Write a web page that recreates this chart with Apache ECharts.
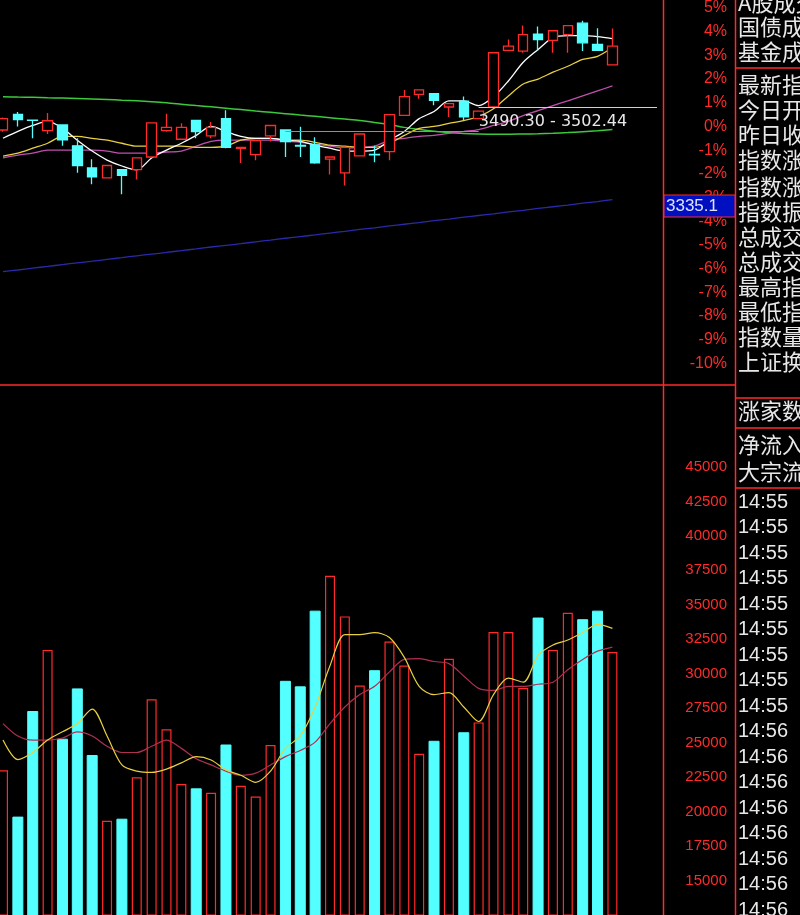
<!DOCTYPE html>
<html><head><meta charset="utf-8">
<script src="https://cdn.jsdelivr.net/npm/echarts@6/dist/echarts.min.js"></script>
<style>html,body{margin:0;padding:0;background:#000;}#c{width:800px;height:915px;}</style>
</head><body><div id="c"></div>
<script>
// categories (42 sessions + 3 empty slots on the right)
var categories = ['1','2','3','4','5','6','7','8','9','10','11','12','13','14','15','16','17','18','19','20','21','22','23','24','25','26','27','28','29','30','31','32','33','34','35','36','37','38','39','40','41','42','43','44','45'];
// candles in % : [open, close, low, high]
var candles = [
[-0.15,0.33,-0.22,0.38],[0.51,0.29,0.0,0.61],[0.27,0.26,-0.5,0.27],[-0.18,0.24,-0.32,0.57],[0.06,-0.57,-0.82,0.06],
[-0.82,-1.65,-1.96,-0.5],[-1.75,-2.13,-2.44,-1.38],[-2.17,-1.65,-2.2,-1.62],[-1.82,-2.07,-2.86,-1.8],[-1.82,-1.33,-2.24,-1.3],
[-1.29,0.15,-1.32,0.17],[-0.18,-0.04,-0.22,0.54],[-0.54,-0.04,-0.57,0.13],[0.26,-0.22,-0.5,0.28],[-0.4,-0.04,-0.5,0.19],
[0.33,-0.88,-0.92,0.68],[-0.93,-0.88,-1.54,-0.86],[-1.19,-0.6,-1.43,-0.58],[-0.4,0.04,-0.64,0.06],[-0.15,-0.64,-1.29,-0.13],
[-0.8,-0.83,-1.29,-0.01],[-0.78,-1.54,-1.57,-0.46],[-1.38,-1.29,-2.03,-1.27],[-1.96,-0.88,-2.49,-0.85],[-1.24,-0.32,-1.27,-0.3],
[-1.18,-1.2,-1.51,-0.82],[-1.06,0.5,-1.43,0.52],[0.47,1.26,0.45,1.54],[1.35,1.54,1.17,1.56],[1.38,1.1,0.89,1.4],
[0.82,0.96,0.4,0.98],[1.07,0.4,0.24,1.26],[0.33,0.65,0.3,0.67],[0.82,3.11,0.8,3.13],[3.21,3.39,3.19,3.67],
[3.18,3.88,3.11,4.26],[3.9,3.67,3.18,4.22],[3.63,4.04,3.11,4.06],[3.88,4.26,3.11,4.28],[4.36,3.53,3.18,4.46],
[3.46,3.21,3.19,4.15],[2.6,3.39,2.58,4.13]];
var ma5 = [-0.5,-0.21,0.04,0.21,-0.08,-0.58,-1.04,-1.42,-1.67,-1.83,-1.33,-1.0,-0.71,-0.38,0.0,-0.21,-0.42,-0.5,-0.5,-0.58,-0.63,-0.79,-0.92,-1.04,-1.04,-1.0,-0.58,-0.21,0.33,0.63,1.08,1.08,0.88,1.25,1.92,2.71,3.25,3.75,3.83,3.83,3.79,3.71];
var ma10 = [-1.25,-1.13,-0.92,-0.71,-0.42,-0.42,-0.5,-0.58,-0.71,-0.83,-0.83,-0.83,-0.83,-0.88,-0.88,-0.83,-0.58,-0.5,-0.5,-0.58,-0.58,-0.67,-0.79,-0.83,-0.88,-0.88,-0.71,-0.38,-0.08,0.0,0.13,0.25,0.42,0.75,1.29,1.79,2.0,2.29,2.54,2.83,2.96,3.33];
var ma20 = [-1.33,-1.21,-1.13,-1.0,-1.0,-1.0,-1.0,-1.04,-1.13,-1.13,-1.13,-1.08,-1.04,-0.83,-0.63,-0.58,-0.58,-0.58,-0.58,-0.63,-0.67,-0.75,-0.83,-0.92,-0.88,-0.83,-0.58,-0.5,-0.42,-0.38,-0.29,-0.21,-0.13,0.04,0.21,0.46,0.67,0.88,1.08,1.29,1.5,1.71];
var ma60 = [1.25,1.24,1.23,1.21,1.2,1.18,1.16,1.14,1.11,1.08,1.04,1.0,0.94,0.88,0.83,0.77,0.71,0.65,0.6,0.54,0.48,0.43,0.37,0.31,0.25,0.17,0.08,-0.04,-0.13,-0.2,-0.26,-0.3,-0.32,-0.33,-0.33,-0.32,-0.31,-0.29,-0.26,-0.22,-0.18,-0.13];
var ma250 = [-6.13,-6.06,-5.98,-5.91,-5.83,-5.76,-5.69,-5.61,-5.54,-5.46,-5.39,-5.32,-5.24,-5.17,-5.09,-5.02,-4.95,-4.87,-4.8,-4.72,-4.65,-4.58,-4.5,-4.43,-4.35,-4.28,-4.2,-4.13,-4.06,-3.98,-3.91,-3.83,-3.76,-3.69,-3.61,-3.54,-3.46,-3.39,-3.32,-3.24,-3.17,-3.09];
var volume = [23000,19600,27260,31730,25250,28900,24070,19330,19450,22490,28150,25970,22000,21650,21370,24830,21880,21100,24830,29450,29050,34540,37100,34160,29150,30220,32330,30590,24190,25100,31090,25720,26470,33020,33020,28960,34040,31730,34420,33920,34540,31580];
var volMa5 = [25186,23776,24286,25186,25786,26386,27436,25486,23386,22936,22846,23086,23536,23986,23746,23026,22636,22126,22936,24586,25486,27586,30586,32836,32836,32986,32626,31186,29086,28486,28636,27586,26536,28486,29686,29386,31336,32086,32446,32986,33586,33286];
var volMa10 = [26386,25486,25186,25186,25336,25786,25486,24736,24286,24286,24736,25186,24586,23836,23386,22936,22636,22786,23386,23986,24436,25036,26386,27586,28486,29086,30136,31036,31096,30886,30736,29836,28936,28786,29086,29086,29236,29386,30286,31036,31636,31936];
var pctTicks = [-10,-9,-8,-7,-6,-5,-4,-3,-2,-1,0,1,2,3,4,5];
var volTicks = [15000,17500,20000,22500,25000,27500,30000,32500,35000,37500,40000,42500,45000];
var rangeLabel = '3490.30 - 3502.44';
var lastMa250Label = '3335.1';
var infoTexts = ['A股成交','国债成交','基金成交','最新指数','今日开盘','昨日收盘','指数涨幅','指数涨跌','指数振幅','总成交额','总成交量','最高指数','最低指数','指数量比','上证换手','涨家数','净流入','大宗流入'];
var infoY = [3,27,52,85,110,135,160,187,212,237,262,287,312,337,362,411,445,472];
var timeTexts = ['14:55','14:55','14:55','14:55','14:55','14:55','14:55','14:55','14:55','14:56','14:56','14:56','14:56','14:56','14:56','14:56','14:56'];

var RED='#ff2a2a', CYAN='#54ffff';
var chart = echarts.init(document.getElementById('c'));
var volItems = volume.map(function(v,i){
  var up = candles[i][1] >= candles[i][0];
  return {value:v, itemStyle: up ? {color:'#000',borderColor:RED,borderWidth:1.2} : {color:CYAN,borderColor:CYAN}};
});
var lineS = function(name,data,color,xi,yi,w){return {name:name,type:'line',data:data,xAxisIndex:xi,yAxisIndex:yi,symbol:'none',smooth:0.3,lineStyle:{color:color,width:w||1.2},z:3,silent:true};};
var graphics = [
  {type:'line',shape:{x1:663.5,y1:0,x2:663.5,y2:915},style:{stroke:RED,lineWidth:1.5},z:50},
  {type:'line',shape:{x1:735.5,y1:0,x2:735.5,y2:915},style:{stroke:RED,lineWidth:1.5},z:50},
  {type:'line',shape:{x1:0,y1:385,x2:735,y2:385},style:{stroke:RED,lineWidth:1.5},z:50},
  {type:'line',shape:{x1:736,y1:68,x2:800,y2:68},style:{stroke:RED,lineWidth:1.5},z:50},
  {type:'line',shape:{x1:736,y1:398,x2:800,y2:398},style:{stroke:RED,lineWidth:1.5},z:50},
  {type:'line',shape:{x1:736,y1:428,x2:800,y2:428},style:{stroke:RED,lineWidth:1.5},z:50},
  {type:'line',shape:{x1:736,y1:488,x2:800,y2:488},style:{stroke:RED,lineWidth:1.5},z:50},
  {type:'rect',shape:{x:664,y:195,width:71,height:22},style:{fill:'#0010c0',stroke:RED,lineWidth:1},z:60},
  {type:'text',x:666,y:206,style:{text:lastMa250Label,fill:'#dfe4ff',font:'17px "Liberation Sans"',verticalAlign:'middle'},z:61}
];
infoTexts.forEach(function(t,i){graphics.push({type:'text',x:738,y:infoY[i],style:{text:t,fill:'#e8e8e8',font:'22px "Noto Sans CJK SC"',verticalAlign:'middle'},z:55});});
timeTexts.forEach(function(t,i){graphics.push({type:'text',x:738,y:502+i*25.5,style:{text:t,fill:'#e8e8e8',font:'20px "Liberation Sans"',verticalAlign:'middle'},z:55});});

chart.setOption({
  backgroundColor:'#000', animation:false,
  grid:[{left:3,top:0,width:654,height:387},{left:3,top:398,width:654,height:525}],
  xAxis:[{type:'category',data:categories,gridIndex:0,show:false,boundaryGap:false},{type:'category',data:categories,gridIndex:1,show:false,boundaryGap:false}],
  yAxis:[
    {type:'value',gridIndex:0,position:'right',offset:6,min:-11,max:5.125,interval:1,splitLine:{show:false},axisLine:{show:false},
     axisTick:{show:false},
     axisLabel:{color:RED,fontSize:16,fontFamily:'Liberation Sans',align:'right',margin:64,showMaxLabel:true,
       formatter:function(v){return (v>=-10 && v<=5 && Math.abs(v-Math.round(v))<1e-6)? Math.round(v)+'%':'';}}},
    {type:'value',gridIndex:1,position:'right',offset:6,min:12500,max:50000,interval:2500,splitLine:{show:false},axisLine:{show:false},axisTick:{show:false},
     axisLabel:{color:RED,fontSize:15,fontFamily:'Liberation Sans',align:'right',margin:64,
       formatter:function(v){return volTicks.indexOf(v)>=0? String(v):'';}}}
  ],
  graphic:graphics,
  series:[
    lineS('MA250',ma250,'#2a2aa8',0,0,1.3),
    lineS('MA60',ma60,'#3cc83c',0,0,1.5),
    lineS('MA20',ma20,'#c050b0',0,0,1.3),
    lineS('MA10',ma10,'#e8d040',0,0,1.3),
    lineS('MA5',ma5,'#ffffff',0,0,1.3),
    {type:'candlestick',data:candles,xAxisIndex:0,yAxisIndex:0,barWidth:10,z:4,
     itemStyle:{color:'#000',color0:CYAN,borderColor:RED,borderColor0:CYAN,borderWidth:1.3},
     markLine:{symbol:'none',silent:true,label:{show:false},
       data:[[{coord:['33',0.79],lineStyle:{color:'#d0d0d0',width:1,type:'solid'}},{coord:['45',0.79]}],
             [{coord:['20',-0.2],lineStyle:{color:'#909090',width:1,type:'solid'}},{coord:['33',-0.2]}]]},
     markPoint:{symbol:'rect',symbolSize:1,itemStyle:{color:'rgba(0,0,0,0)'},
       data:[{coord:['38',0.2],label:{show:true,formatter:rangeLabel,color:'#e8e8e8',fontSize:16,fontFamily:'DejaVu Sans'}}]}},
    {type:'bar',data:volItems,xAxisIndex:1,yAxisIndex:1,barWidth:10,z:2},
    lineS('VMA10',volMa10,'#b03050',1,1,1.2),
    lineS('VMA5',volMa5,'#e8d040',1,1,1.2)
  ]
});
</script></body></html>
